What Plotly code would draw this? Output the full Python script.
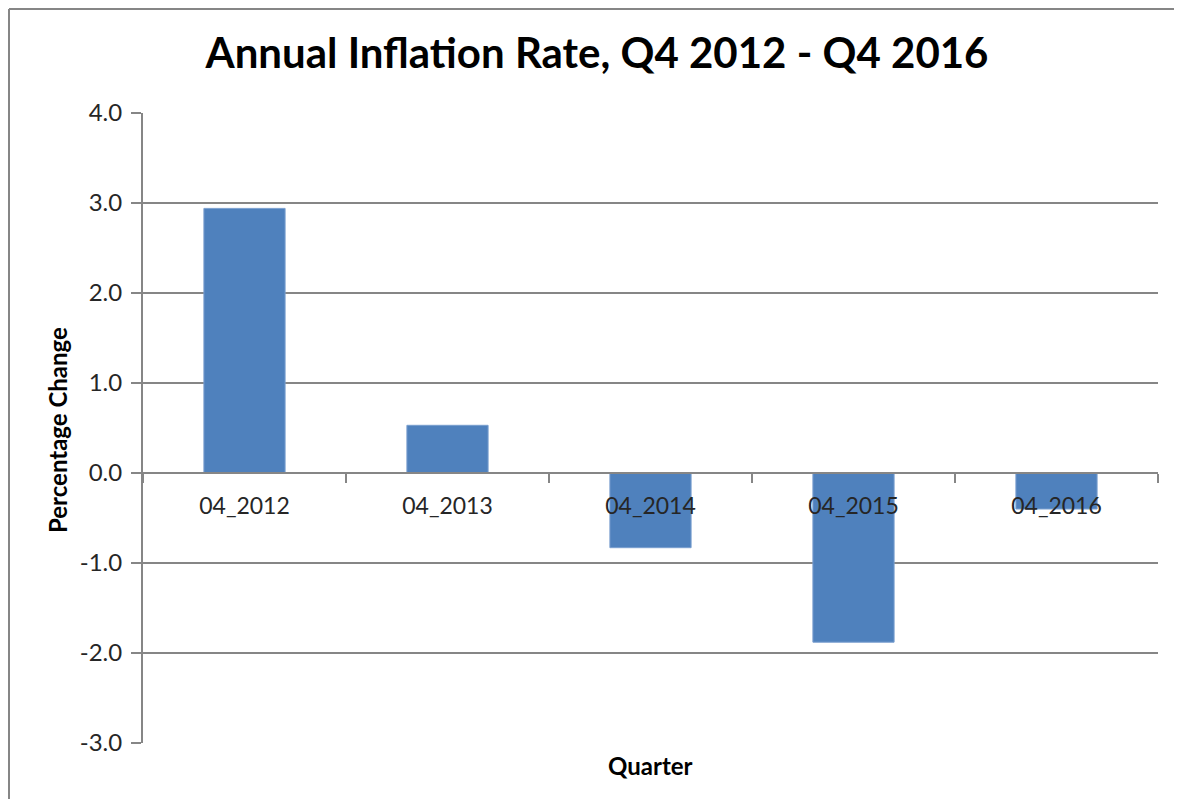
import plotly.graph_objects as go

quarters = ["04_2012", "04_2013", "04_2014", "04_2015", "04_2016"]
inflation = [2.94, 0.53, -0.83, -1.88, -0.40]
y_ticks = [-3, -2, -1, 0, 1, 2, 3, 4]
y_tick_text = [f"{v:.1f}" for v in y_ticks]

# page offset (browser body margin)
OFF = 8
W, H = 1166, 791
# desired plot area in page pixels
PX0, PX1, PY0, PY1 = 143, 1158, 113, 743
L, R = PX0 - OFF, (OFF + W) - PX1
T, B = PY0 - OFF, (OFF + H) - PY1
pw, ph = W - L - R, H - T - B
ymin, ymax = -3, 4

GRAY = "#868686"
FONT = "Lato"


def px_x(page_x):
    return (page_x - PX0) / pw


def px_y(page_y):
    return (PY1 - page_y) / ph


fig = go.Figure(go.Bar(x=quarters, y=inflation,
                       marker=dict(color="#4F81BD", line=dict(color="#7A9FCF", width=1))))

fig.update_layout(
    width=W, height=H,
    margin=dict(l=L, r=R, t=T, b=B),
    paper_bgcolor="white", plot_bgcolor="white",
    bargap=0.6,
    showlegend=False,
    title=dict(text="<b>Annual Inflation Rate, Q4 2012 - Q4 2016</b>",
               x=(597 - OFF) / W, xanchor="center", y=1 - (53 - OFF) / H, yanchor="middle",
               font=dict(family=FONT, size=42, color="black")),
    font=dict(family=FONT, color="#404040"),
)

fig.update_xaxes(
    type="category",
    anchor="free", position=(0 - ymin) / (ymax - ymin),
    showline=True, linecolor=GRAY, linewidth=2,
    ticks="outside", tickson="boundaries", ticklen=9, tickcolor=GRAY, tickwidth=2,
    tickfont=dict(size=23, color="#262626"),
    ticklabelstandoff=12,
    showgrid=False, zeroline=False,
    layer="above traces",
)
fig.update_yaxes(
    range=[ymin, ymax], tickvals=y_ticks, ticktext=y_tick_text,
    showline=True, linecolor=GRAY, linewidth=2,
    ticks="outside", ticklen=10, tickcolor=GRAY, tickwidth=2,
    tickfont=dict(size=24, color="#262626"),
    ticklabelstandoff=4,
    showgrid=True, gridcolor=GRAY, gridwidth=2,
    zeroline=False,
)

fig.add_annotation(text="<b>Percentage Change</b>", xref="paper", yref="paper",
                   x=px_x(57), y=px_y(430), xanchor="center", yanchor="middle",
                   textangle=-90, showarrow=False,
                   font=dict(family=FONT, size=24, color="black"))

fig.add_annotation(text="<b>Quarter</b>", xref="paper", yref="paper",
                   x=px_x(650), y=px_y(765), yanchor="middle", showarrow=False,
                   font=dict(family=FONT, size=24, color="black"))

# chart-area border: only left and top edges are inside the picture
fig.add_shape(type="line", xref="paper", yref="paper",
              x0=px_x(OFF + 1), x1=1.3, y0=px_y(OFF + 1), y1=px_y(OFF + 1),
              line=dict(color=GRAY, width=2), layer="below")
fig.add_shape(type="line", xref="paper", yref="paper",
              x0=px_x(OFF + 1), x1=px_x(OFF + 1), y0=-0.3, y1=px_y(OFF + 1),
              line=dict(color=GRAY, width=2), layer="below")

fig.write_html("out.html")
